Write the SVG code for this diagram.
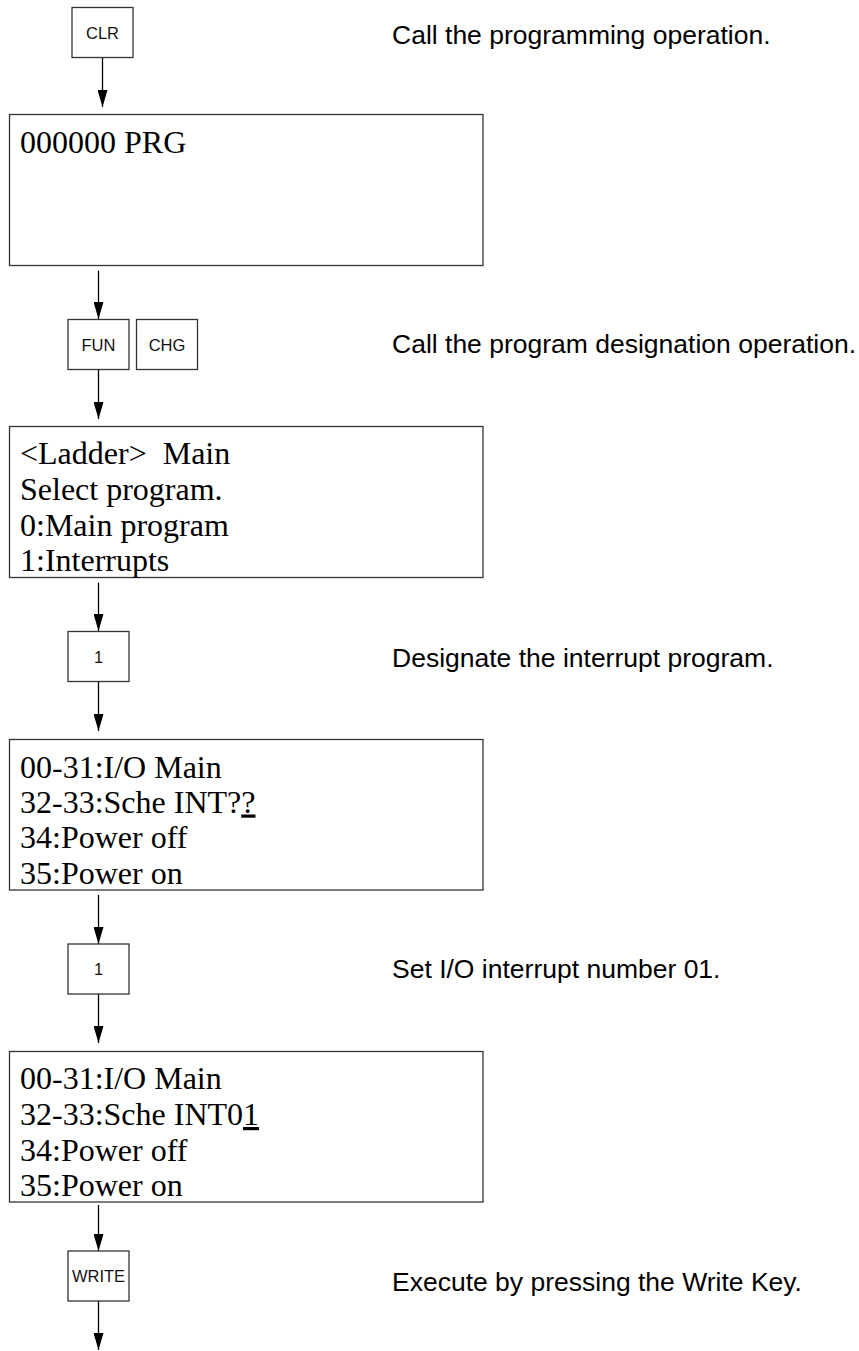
<svg xmlns="http://www.w3.org/2000/svg" width="859" height="1351" viewBox="0 0 859 1351">
<style>
.key{fill:#fff;stroke:#333;stroke-width:1.3}
.scr{fill:#fff;stroke:#333;stroke-width:1.3}
.kt{font-family:"Liberation Sans",Arial,sans-serif;font-size:16.5px;text-anchor:middle;fill:#111}
.st{font-family:"Liberation Serif","Times New Roman",serif;font-size:32px;fill:#000;white-space:pre}
.dt{font-family:"Liberation Sans",Arial,sans-serif;font-size:26.5px;fill:#000}
.conn line{stroke:#000;stroke-width:1.3;marker-end:url(#ah)}
</style>
<defs>
<marker id="ah" markerUnits="userSpaceOnUse" markerWidth="18" markerHeight="10" viewBox="0 0 18 10" refX="17" refY="5" orient="auto">
<path d="M0,0 L17,5 L0,10 Z" fill="#000"/>
</marker>
</defs>
<g id="connectors" class="conn">
<line x1="102.5" y1="57.5" x2="102.5" y2="107"/>
<line x1="98.5" y1="270.7" x2="98.5" y2="319"/>
<line x1="98.5" y1="369.5" x2="98.5" y2="419"/>
<line x1="98.5" y1="582.7" x2="98.5" y2="631"/>
<line x1="98.5" y1="681.5" x2="98.5" y2="731"/>
<line x1="98.5" y1="895" x2="98.5" y2="944"/>
<line x1="98.5" y1="994" x2="98.5" y2="1043"/>
<line x1="98.5" y1="1205" x2="98.5" y2="1251"/>
<line x1="98.5" y1="1301" x2="98.5" y2="1350"/>
</g>
<g id="key-clr"><rect class="key" x="72" y="7.5" width="61" height="50"/><text class="kt" x="102.5" y="38.5">CLR</text></g>
<g id="screen-prg"><rect class="scr" x="9.5" y="114.5" width="473.5" height="151"/><text class="st" x="20" y="153">000000 PRG</text></g>
<g id="key-fun"><rect class="key" x="68" y="319.5" width="61" height="50"/><text class="kt" x="98.5" y="350.5">FUN</text></g>
<g id="key-chg"><rect class="key" x="136.5" y="319.5" width="61" height="50"/><text class="kt" x="167" y="350.5">CHG</text></g>
<g id="screen-select"><rect class="scr" x="9.5" y="426.5" width="473.5" height="151"/>
<text class="st" x="20" y="464">&lt;Ladder&gt;  Main</text>
<text class="st" x="20" y="500">Select program.</text>
<text class="st" x="20" y="535.5">0:Main program</text>
<text class="st" x="20" y="571">1:Interrupts</text></g>
<g id="key-1a"><rect class="key" x="68" y="631.5" width="61" height="50"/><text class="kt" x="98.5" y="662.5">1</text></g>
<g id="screen-int"><rect class="scr" x="9.5" y="739.5" width="473.5" height="150.5"/>
<text class="st" x="20" y="777.5">00-31:I/O Main</text>
<text class="st" x="20" y="812.5">32-33:Sche INT?<tspan text-decoration="underline">?</tspan></text>
<text class="st" x="20" y="848">34:Power off</text>
<text class="st" x="20" y="883.5">35:Power on</text></g>
<g id="key-1b"><rect class="key" x="68" y="944" width="61" height="50"/><text class="kt" x="98.5" y="975">1</text></g>
<g id="screen-int01"><rect class="scr" x="9.5" y="1051.5" width="473.5" height="150.5"/>
<text class="st" x="20" y="1089">00-31:I/O Main</text>
<text class="st" x="20" y="1125">32-33:Sche INT0<tspan text-decoration="underline">1</tspan></text>
<text class="st" x="20" y="1160.5">34:Power off</text>
<text class="st" x="20" y="1196">35:Power on</text></g>
<g id="key-write"><rect class="key" x="68" y="1251" width="61" height="50"/><text class="kt" x="98.5" y="1282">WRITE</text></g>
<g id="descriptions">
<text class="dt" x="392" y="43.5">Call the programming operation.</text>
<text class="dt" x="392" y="352.5">Call the program designation operation.</text>
<text class="dt" x="392" y="666.5">Designate the interrupt program.</text>
<text class="dt" x="392" y="977.5">Set I/O interrupt number 01.</text>
<text class="dt" x="392" y="1290.5">Execute by pressing the Write Key.</text>
</g>
</svg>
